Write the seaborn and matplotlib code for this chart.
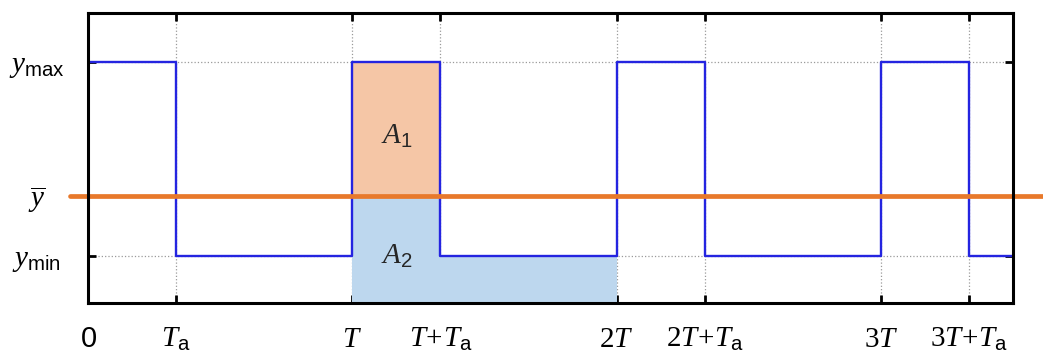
import numpy as np
import pandas as pd
import seaborn as sns
import matplotlib.pyplot as plt

# period T = 3 units, on-time Ta = 1 unit; amplitude scaled so y_min = 0, y_max = 1
T = 3.0
Ta = 1.0
y_min, y_max = 0.0, 1.0
y_bar = 0.31

t_edges = [0, Ta, T, T + Ta, 2 * T, 2 * T + Ta, 3 * T, 3 * T + Ta, 3.5 * T]
y_levels = [y_max, y_min, y_max, y_min, y_max, y_min, y_max, y_min, y_min]

x_ticks = [0, Ta, T, T + Ta, 2 * T, 2 * T + Ta, 3 * T, 3 * T + Ta]
x_labels = [r'$\mathsf{0}$', r'$T_{\mathsf{a}}$', r'$T$', r'$T\!+\!T_{\mathsf{a}}$',
            r'$\mathit{2T}$', r'$\mathit{2T}\!+\!T_{\mathsf{a}}$',
            r'$\mathit{3T}$', r'$\mathit{3T}\!+\!T_{\mathsf{a}}$']
y_ticks = [y_min, y_bar, y_max]
y_labels = [r'$y_{\mathsf{min}}$', r'$\overline{y}$', r'$y_{\mathsf{max}}$']

sns.set_style('ticks')
plt.rcParams['mathtext.fontset'] = 'custom'
plt.rcParams['mathtext.it'] = 'Liberation Serif:italic'
plt.rcParams['mathtext.rm'] = 'Liberation Serif'
plt.rcParams['mathtext.sf'] = 'Liberation Sans'
plt.rcParams['font.family'] = ['Liberation Sans', 'DejaVu Sans']

fig = plt.figure(figsize=(10.43, 3.57), dpi=100)
ax = fig.add_axes([0.0844, 0.1513, 0.8868, 0.8123])

ylo, yhi = -0.24, 1.25

# shaded areas A1 and A2
ax.fill_between([T, T + Ta], y_bar, y_max, color='#F5C6A6', lw=0, zorder=1)
ax.fill_between([T, T + Ta, T + Ta, 2 * T], [y_bar, y_bar, y_min, y_min], ylo,
                color='#BDD7EE', lw=0, zorder=1)

wave = pd.DataFrame({'t': t_edges, 'y': y_levels})
sns.lineplot(data=wave, x='t', y='y', ax=ax, color='#2424E0', lw=1.7,
             drawstyle='steps-post', sort=False, zorder=3)

ax.axhline(y_bar, xmin=-0.02, xmax=1.05, color='#E8792B', lw=3.4,
           clip_on=False, zorder=4)

ax.text(T + Ta / 2, 0.62, r'$A_{\mathsf{1}}$', ha='center', va='center', fontsize=21)
ax.text(T + Ta / 2, 0.0, r'$A_{\mathsf{2}}$', ha='center', va='center', fontsize=21)

ax.set_xlim(0, 3.5 * T)
ax.set_ylim(ylo, yhi)
ax.set_xticks(x_ticks)
ax.set_xticklabels(x_labels, fontsize=21)
ax.set_yticks(y_ticks)
ax.set_yticklabels(y_labels, fontsize=21)
for lab in ax.get_yticklabels():
    lab.set_horizontalalignment('center')
ax.set_xlabel('')
ax.set_ylabel('')

ax.grid(True, ls=':', color='#9a9a9a', lw=0.9, zorder=0)
ax.tick_params(axis='both', direction='in', length=6, width=2,
               top=True, right=True, colors='black')
ax.tick_params(axis='x', pad=16)
ax.tick_params(axis='y', pad=37)
for sp in ax.spines.values():
    sp.set_visible(True)
    sp.set_linewidth(2.2)
    sp.set_color('black')
    sp.set_zorder(5)

fig.savefig('out.png', dpi=100)
